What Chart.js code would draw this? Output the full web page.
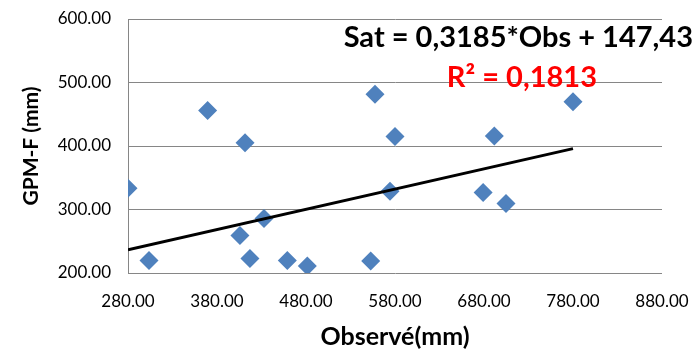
<!DOCTYPE html>
<html>
<head>
<meta charset="utf-8">
<script src="https://cdn.jsdelivr.net/npm/chart.js@4/dist/chart.umd.min.js"></script>
<style>
  html, body { margin: 0; padding: 0; background: #fff; }
  #wrap { width: 700px; height: 350px; }
</style>
</head>
<body>
<div id="wrap"><canvas id="c" width="700" height="350"></canvas></div>
<script>
// Observed (mm) values
const obsValues = [280, 303.6, 369.5, 411.5, 405.8, 417, 432.8, 459, 481.5, 552.7, 557.5, 580, 574.4, 691.6, 679, 704.7, 780];
// GPM-F (mm) values
const gpmValues = [333.6, 219.6, 456, 405, 259, 222.7, 285.8, 219.6, 211, 219, 481.4, 415, 328.9, 415.6, 326.8, 309.5, 469.7];
// Trend line endpoints
const trendX = [280, 780];
const trendY = [236.6, 395.9];
const equationText = "Sat = 0,3185*Obs + 147,43";
const r2Text = "R² = 0,1813";
const xTitle = "Observé(mm)";
const yTitle = "GPM-F (mm)";

const FONT = "Lato, 'Open Sans', sans-serif";

const annotationPlugin = {
  id: 'eqn',
  afterDatasetsDraw(chart) {
    const ctx = chart.ctx;
    const a = chart.chartArea;
    ctx.save();
    ctx.textAlign = 'right';
    ctx.textBaseline = 'alphabetic';
    ctx.font = "bold 29px " + FONT;
    ctx.fillStyle = '#000';
    ctx.fillText(equationText, a.right + 31, a.top + 28);
    ctx.fillStyle = '#FF0000';
    ctx.fillText(r2Text, a.right - 65, a.top + 68);
    // x axis title
    ctx.textAlign = 'center';
    ctx.textBaseline = 'middle';
    ctx.font = "bold 25px " + FONT;
    ctx.fillStyle = '#000';
    ctx.fillText(xTitle, (a.left + a.right) / 2, a.bottom + 64);
    ctx.restore();
  }
};

new Chart(document.getElementById('c'), {
  type: 'scatter',
  data: {
    datasets: [
      {
        label: 'GPM-F',
        data: obsValues.map((x, i) => ({ x: x, y: gpmValues[i] })),
        pointStyle: 'rectRot',
        pointRadius: 9.5,
        pointHoverRadius: 9.5,
        backgroundColor: '#4F81BD',
        borderColor: '#4F81BD',
        borderWidth: 0,
        order: 2
      },
      {
        label: 'Trend',
        type: 'line',
        data: trendX.map((x, i) => ({ x: x, y: trendY[i] })),
        borderColor: '#000',
        borderWidth: 3,
        pointRadius: 0,
        fill: false,
        order: 1
      }
    ]
  },
  options: {
    responsive: false,
    animation: false,
    layout: { padding: { top: 19, right: 38, left: 19, bottom: 0 } },
    plugins: { legend: { display: false }, tooltip: { enabled: false } },
    scales: {
      x: {
        type: 'linear',
        min: 280, max: 880,
        afterFit(s) { s.height = 77; s.paddingLeft = 0; s.paddingRight = 0; },
        ticks: {
          stepSize: 100,
          padding: 18,
          color: '#000',
          font: { family: FONT, size: 17 },
          callback: v => Number(v).toFixed(2),
          maxRotation: 0
        },
        grid: { display: false, drawTicks: false },
        border: { display: false }
      },
      y: {
        min: 200, max: 600,
        afterFit(s) { s.width = 109; s.paddingTop = 0; s.paddingBottom = 0; },
        ticks: {
          stepSize: 100,
          padding: 17,
          color: '#000',
          font: { family: FONT, size: 17 },
          callback: v => Number(v).toFixed(2)
        },
        grid: { color: '#868686', lineWidth: 1, drawTicks: false },
        border: { display: true, color: '#868686', width: 1 },
        title: {
          display: true, text: yTitle, color: '#000',
          font: { family: FONT, size: 21, weight: 'bold' },
          padding: { top: 0, bottom: 0 }
        }
      }
    }
  },
  plugins: [annotationPlugin]
});
</script>
</body>
</html>
